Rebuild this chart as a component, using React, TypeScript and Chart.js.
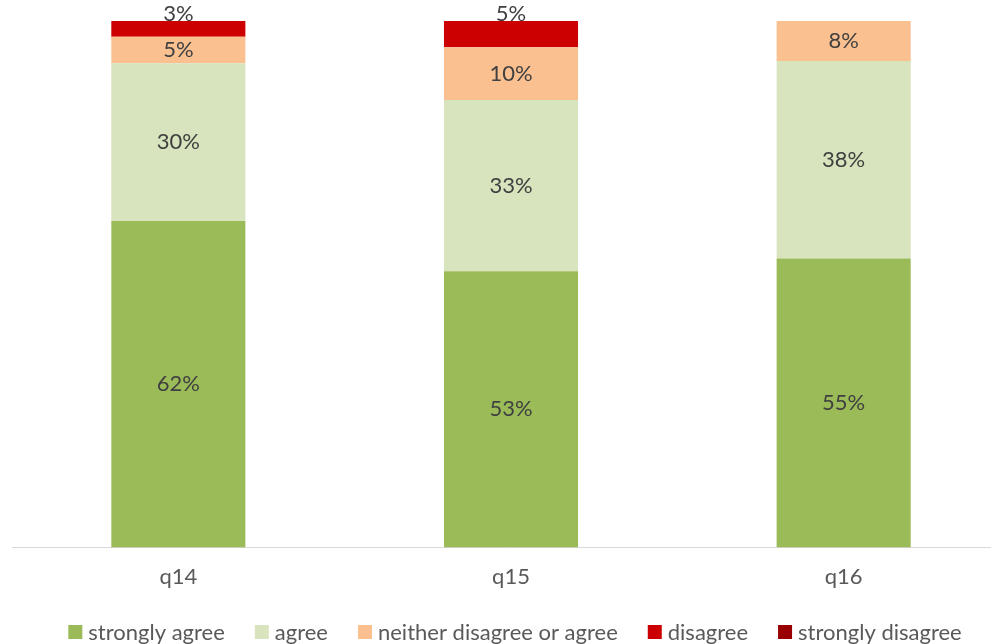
import React, { useEffect, useRef } from "react";
import { Chart, registerables } from "chart.js";

Chart.register(...registerables);

const categories = ["q14", "q15", "q16"];
const seriesNames = ["strongly agree", "agree", "neither disagree or agree", "disagree", "strongly disagree"];
const stronglyAgree = [0.62, 0.525, 0.549];
const agree = [0.30, 0.325, 0.375];
const neither = [0.05, 0.10, 0.076];
const disagree = [0.03, 0.05, 0];
const stronglyDisagree = [0, 0, 0];
const seriesColors = ["#9BBB59", "#D7E4BD", "#FAC090", "#CC0000", "#990000"];

const FONT = "Lato, 'Open Sans', sans-serif";
const FS = 22;

const labelPlugin = {
  id: "segLabels",
  afterDatasetsDraw(chart: any) {
    const ctx = chart.ctx;
    ctx.save();
    ctx.font = `${FS}px ${FONT}`;
    ctx.fillStyle = "#404040";
    ctx.textAlign = "center";
    ctx.textBaseline = "middle";
    chart.data.datasets.forEach((ds: any, di: number) => {
      const meta = chart.getDatasetMeta(di);
      meta.data.forEach((bar: any, i: number) => {
        const v = ds.data[i];
        if (!v) return;
        const txt = Math.round(v * 100) + "%";
        let y = (bar.y + bar.base) / 2;
        if (di === 3) y = bar.y - 7;
        ctx.fillText(txt, bar.x, y);
      });
    });
    ctx.restore();
  },
};

const legendPlugin = {
  id: "customLegend",
  afterDraw(chart: any) {
    const ctx = chart.ctx;
    ctx.save();
    ctx.font = `${FS}px ${FONT}`;
    ctx.textBaseline = "middle";
    ctx.textAlign = "left";
    const box = 14, gapBoxText = 6, gapItems = 30;
    const widths = seriesNames.map((n) => box + gapBoxText + ctx.measureText(n).width);
    const total = widths.reduce((a, b) => a + b, 0) + gapItems * (seriesNames.length - 1);
    let x = chart.width / 2 + 4 - total / 2;
    const y = 632;
    seriesNames.forEach((n, i) => {
      ctx.fillStyle = seriesColors[i];
      ctx.fillRect(x, y - box / 2, box, box);
      ctx.fillStyle = "#595959";
      ctx.fillText(n, x + box + gapBoxText, y + 1);
      x += widths[i] + gapItems;
    });
    ctx.restore();
  },
};

export default function App() {
  const ref = useRef<HTMLCanvasElement>(null);
  useEffect(() => {
    if (!ref.current) return;
    const dataArrays = [stronglyAgree, agree, neither, disagree, stronglyDisagree];
    const chart = new Chart(ref.current, {
      type: "bar",
      data: {
        labels: categories,
        datasets: seriesNames.map((name, i) => ({
          label: name,
          data: dataArrays[i],
          backgroundColor: seriesColors[i],
          borderWidth: 0,
          categoryPercentage: 1,
          barPercentage: 0.403,
        })),
      },
      options: {
        animation: false,
        responsive: false,
        maintainAspectRatio: false,
        layout: { padding: { top: 21, left: 12, right: 12, bottom: 46 } },
        plugins: { legend: { display: false }, tooltip: { enabled: false } },
        scales: {
          x: {
            stacked: true,
            grid: { display: false },
            border: { display: true, color: "#D9D9D9", width: 1 },
            ticks: { color: "#595959", font: { family: FONT, size: FS }, padding: 8 },
          },
          y: { stacked: true, min: 0, max: 1, display: false },
        },
      },
      plugins: [labelPlugin, legendPlugin],
    });
    return () => chart.destroy();
  }, []);
  return (
    <div style={{ position: "fixed", left: 0, top: 0, width: 991, height: 644, overflow: "hidden", background: "#fff" }}>
      <canvas ref={ref} width={1022} height={644} style={{ display: "block" }} />
    </div>
  );
}
